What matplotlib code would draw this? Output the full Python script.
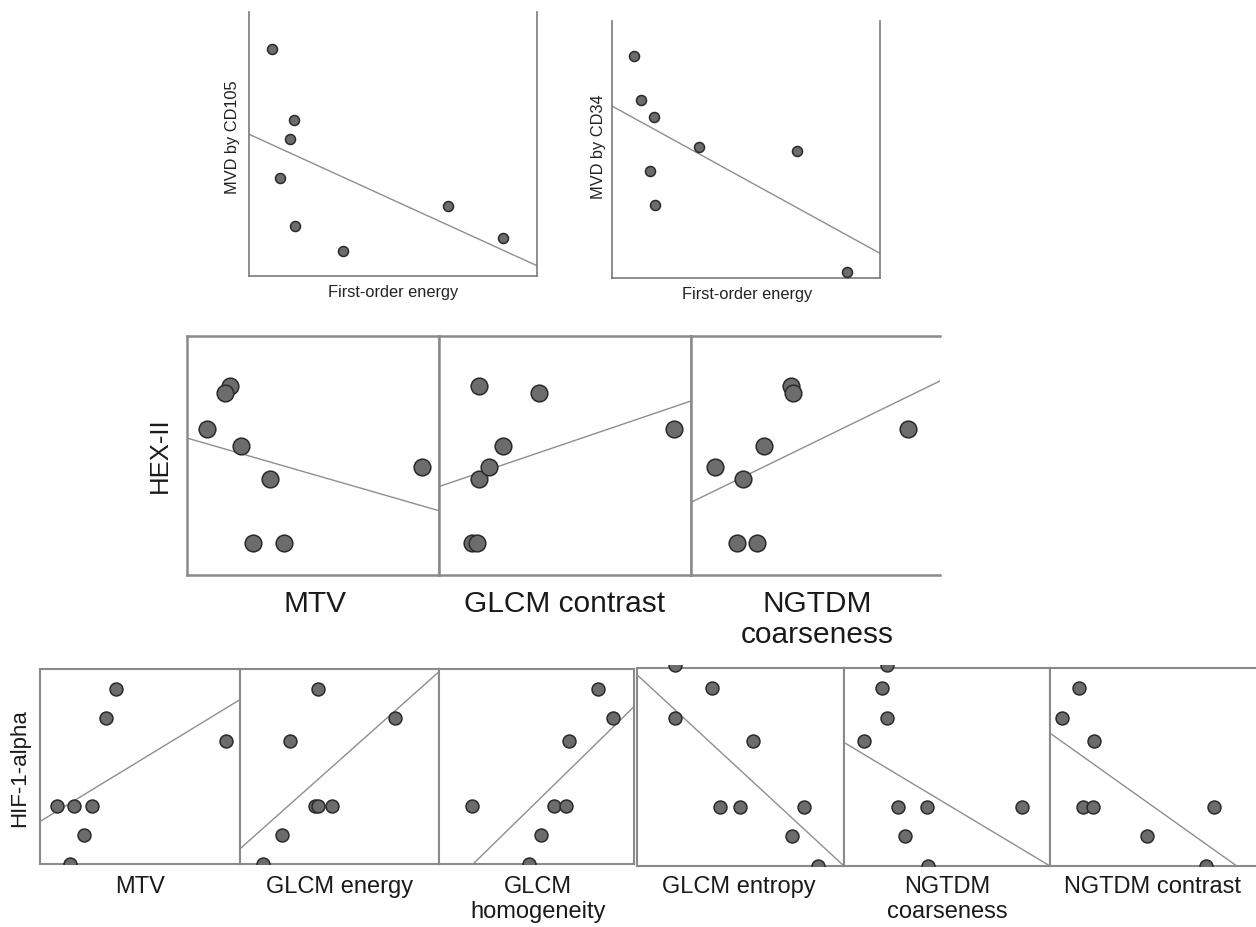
import matplotlib
matplotlib.use("Agg")
import matplotlib.pyplot as plt
import numpy as np
from matplotlib.patches import Rectangle

plt.rcParams['font.family'] = ['Liberation Sans', 'DejaVu Sans']

# --- top row: MVD vs first-order energy (arbitrary units 0-100) ---
cd105_energy = [7.9, 15.7, 14.2, 10.8, 15.9, 32.6, 69.1, 88.1]
cd105_mvd = [85.9, 59.2, 51.9, 37.2, 19.0, 9.5, 26.4, 14.4]
cd105_fit = [53.7, 3.9]   # fitted value at x=0 and x=100

cd34_energy = [8.2, 10.8, 15.7, 32.5, 68.9, 14.1, 15.9, 87.7]
cd34_mvd = [86.5, 69.3, 62.8, 51.0, 49.5, 41.8, 28.5, 2.2]
cd34_fit = [66.9, 9.6]

# --- middle row: HEX-II ---
hex2 = [79.2, 76.3, 61.0, 53.9, 40.2, 13.4, 13.4, 45.0]
hex_features = ["MTV", "GLCM contrast", "NGTDM\ncoarseness"]
hex_x = [
    [16.9, 15.0, 7.9, 21.4, 32.9, 26.1, 38.4, 93.1],
    [15.9, 39.7, 93.4, 25.2, 15.8, 12.9, 14.9, 19.9],
    [40.2, 41.1, 87.3, 29.4, 20.8, 18.5, 26.4, 9.6],
]
hex_fit = [[57.3, 26.9], [37.0, 72.8], [30.4, 81.2]]

# --- bottom row: HIF-1-alpha ---
hif = [89.9, 74.9, 62.9, 29.9, 29.9, 29.9, 14.9, 0.0, 101.5]
hif_features = ["MTV", "GLCM energy", "GLCM\nhomogeneity", "GLCM entropy",
                "NGTDM\ncoarseness", "NGTDM contrast"]
hif_x = [
    [38.2, 33.0, 92.8, 8.3, 17.2, 26.2, 22.2, 15.0, np.nan],
    [39.3, 77.9, 25.1, 37.6, 39.3, 46.0, 21.2, 11.4, np.nan],
    [81.4, 89.1, 66.8, 17.0, 58.9, 65.1, 52.1, 46.1, np.nan],
    [36.0, 18.2, 55.8, 40.3, 49.7, 80.8, 74.7, 87.3, 18.2],
    [18.3, 20.7, 9.7, 26.4, 40.1, 86.6, 29.6, 40.6, 20.7],
    [14.2, 5.7, 21.5, 16.2, 20.7, 79.8, 46.9, 75.7, np.nan],
]
hif_fit = [[21.8, 84.3], [7.8, 98.6], [-17.1, 80.7], [96.6, 0.0],
           [62.4, 0.0], [67.1, -6.9]]

W, H = 1256, 927
fig = plt.figure(figsize=(W / 100, H / 100), dpi=100)


def px_axes(x0, y0, x1, y1):
    return fig.add_axes([x0 / W, 1 - y1 / H, (x1 - x0) / W, (y1 - y0) / H])


def panel(ax, xs, ys, fit, ms, spine_col, spine_lw, hide=()):
    ax.set_xlim(0, 100)
    ax.set_ylim(0, 100)
    ax.plot([0, 100], fit, color='#8e8e8e', lw=1.0, zorder=2)
    pts, = ax.plot(xs, ys, 'o', ms=ms, mfc='#6c6c6c', mec='#2a2a2a',
                   mew=1.1, zorder=3)
    ax.set_xticks([])
    ax.set_yticks([])
    for name, sp in ax.spines.items():
        sp.set_color(spine_col)
        sp.set_linewidth(spine_lw)
    for name in hide:
        ax.spines[name].set_visible(False)
    return pts


# top row
ax = px_axes(249, 12, 537, 276)
panel(ax, cd105_energy, cd105_mvd, cd105_fit, 7.2, '#7a7a7a', 1.2, hide=('top',))
fig.text(393, H - 293, "First-order energy", transform=None, ha='center',
         va='center', fontsize=11.8, color='#222222')
fig.text(233, H - 137, "MVD by CD105", transform=None, ha='center',
         va='center', rotation=90, fontsize=11.8, color='#222222')

ax = px_axes(612, 21, 880, 278)
panel(ax, cd34_energy, cd34_mvd, cd34_fit, 7.2, '#7a7a7a', 1.2, hide=('top',))
fig.text(747, H - 294, "First-order energy", transform=None, ha='center',
         va='center', fontsize=11.8, color='#222222')
fig.text(598, H - 147, "MVD by CD34", transform=None, ha='center',
         va='center', rotation=90, fontsize=11.8, color='#222222')

# middle row
mid_edges = [187, 439, 691, 940]
mid_label_x = [315, 565, 817]
for i in range(3):
    hide = ('right',) if i == 2 else ()
    ax = px_axes(mid_edges[i], 336, mid_edges[i + 1], 575)
    panel(ax, hex_x[i], hex2, hex_fit[i], 12.0, '#8a8a8a', 1.8, hide=hide)
    fig.text(mid_label_x[i], H - 590, hex_features[i], transform=None,
             ha='center', va='top', fontsize=21.5, color='#1a1a1a',
             linespacing=1.12)
fig.text(160, H - 455, "HEX-II", transform=None, ha='center', va='center',
         rotation=90, fontsize=18.5, color='#1a1a1a')

# bottom row
bot_boxes = [(40, 240, 669, 864), (240, 439, 669, 864), (439, 634, 669, 864),
             (637, 844, 668, 866), (844, 1050, 668, 866), (1050, 1256, 668, 866)]
bot_label_x = [140, 340, 538, 739, 947, 1153]
for i, (x0, x1, y0, y1) in enumerate(bot_boxes):
    hide = ('right',) if i == 5 else ()
    ax = px_axes(x0, y0, x1, y1)
    pts = panel(ax, hif_x[i], hif, hif_fit[i], 9.3, '#8a8a8a', 1.5, hide=hide)
    # markers slightly above the frame are cut by the image edge at y=665
    clip = Rectangle(((x0 - 1) / W, 1 - y1 / H), (x1 - x0 + 2) / W,
                     (y1 - 665) / H, transform=fig.transFigure)
    pts.set_clip_path(clip)
    fig.text(bot_label_x[i], H - 876, hif_features[i], transform=None,
             ha='center', va='top', fontsize=17, color='#1a1a1a',
             linespacing=1.2)
fig.text(20, H - 768, "HIF-1-alpha", transform=None, ha='center', va='center',
         rotation=90, fontsize=16, color='#1a1a1a')

fig.savefig("out.png", dpi=100)
